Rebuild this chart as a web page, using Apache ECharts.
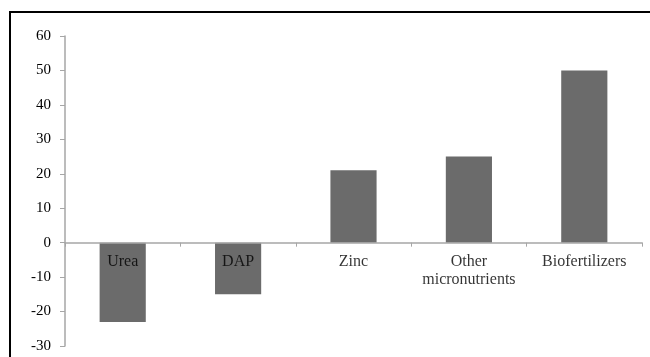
<!DOCTYPE html>
<html>
<head>
<meta charset="utf-8">
<script src="https://cdn.jsdelivr.net/npm/echarts@6/dist/echarts.min.js"></script>
<style>
html,body{margin:0;padding:0;background:#fff;}
#chart{width:650px;height:357px;}
</style>
</head>
<body>
<div id="chart"></div>
<script>
var categories = ['Urea', 'DAP', 'Zinc', 'Other\nmicronutrients', 'Biofertilizers'];
var values = [-23, -15, 21, 25, 50];
var yMin = -30, yMax = 60, yStep = 10;

var chart = echarts.init(document.getElementById('chart'), null, {renderer: 'canvas'});
var font = 'Liberation Serif, Times New Roman, serif';
chart.setOption({
  animation: false,
  backgroundColor: '#fff',
  graphic: [{
    type: 'rect',
    shape: {x: 10, y: 12, width: 700, height: 400},
    style: {fill: 'none', stroke: '#000', lineWidth: 2},
    silent: true
  }],
  grid: {left: 65, right: 8, top: 36, bottom: 11, containLabel: false, outerBoundsMode: 'none'},
  xAxis: {
    type: 'category',
    data: categories,
    z: 5,
    axisLine: {onZero: true, lineStyle: {color: '#a6a6a6', width: 1.5}},
    axisTick: {show: true, length: 4, lineStyle: {color: '#a6a6a6'}},
    axisLabel: {show: false},
    splitLine: {show: false}
  },
  yAxis: {
    type: 'value',
    min: yMin, max: yMax, interval: yStep,
    axisLine: {show: true, lineStyle: {color: '#a6a6a6', width: 1.5}},
    axisTick: {show: true, length: 5, lineStyle: {color: '#a6a6a6'}},
    axisLabel: {color: '#000', fontFamily: font, fontSize: 15, margin: 14},
    splitLine: {show: false}
  },
  series: [{
    type: 'bar',
    data: values,
    barWidth: '40%',
    itemStyle: {color: '#6b6b6b'}
  }, {
    type: 'scatter',
    z: 10,
    silent: true,
    symbolSize: 0,
    data: categories.map(function (c) { return [c, 0]; }),
    label: {
      show: true,
      position: 'bottom',
      distance: 10,
      color: '#000',
      fontFamily: font,
      fontSize: 16,
      lineHeight: 18,
      align: 'center',
      formatter: function (p) { return p.value[0]; }
    }
  }]
});
</script>
</body>
</html>
